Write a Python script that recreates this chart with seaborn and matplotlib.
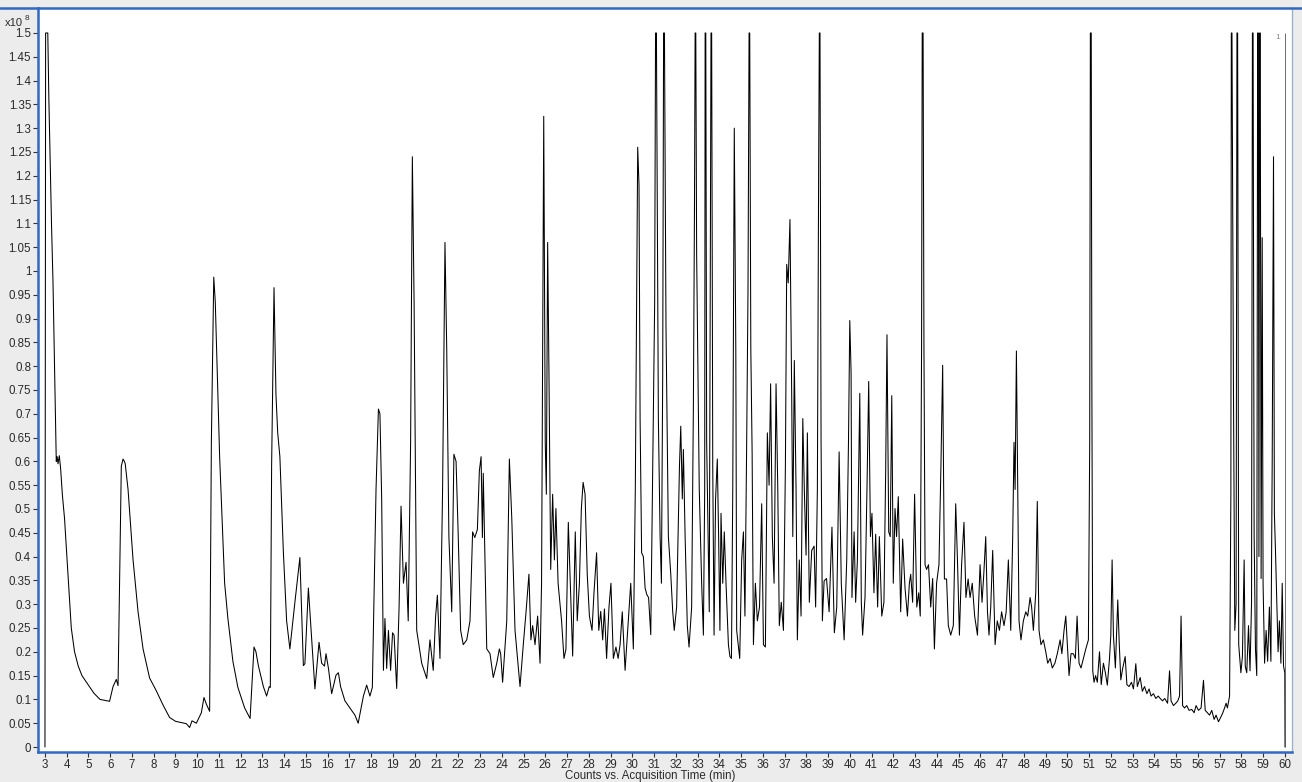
import matplotlib
matplotlib.use("Agg")
import matplotlib.pyplot as plt
import pandas as pd
import seaborn as sns
from matplotlib.lines import Line2D

# (retention time in min, counts x10^8), one list per stretch
seg_03_12 = [
    (3.00, 0.0), (3.03, 1.5), (3.13, 1.5), (3.18, 1.36), (3.23, 1.25), (3.30, 1.10),
    (3.37, 0.975), (3.45, 0.78), (3.52, 0.60), (3.56, 0.61), (3.60, 0.595), (3.66, 0.612),
    (3.72, 0.585), (3.80, 0.53), (3.90, 0.48), (4.06, 0.36), (4.21, 0.25), (4.36, 0.20),
    (4.53, 0.17), (4.70, 0.15), (4.85, 0.14), (5.00, 0.13), (5.25, 0.113), (5.53, 0.100),
    (5.97, 0.096), (6.13, 0.127), (6.28, 0.142), (6.36, 0.129), (6.43, 0.344), (6.51, 0.59),
    (6.59, 0.605), (6.65, 0.60), (6.69, 0.595), (6.82, 0.541), (7.05, 0.393), (7.28, 0.284),
    (7.51, 0.206), (7.81, 0.145), (8.12, 0.118), (8.43, 0.088), (8.73, 0.062), (9.00, 0.054),
    (9.30, 0.051), (9.50, 0.049), (9.65, 0.041), (9.76, 0.055), (9.96, 0.050), (10.19, 0.072),
    (10.31, 0.104), (10.42, 0.090), (10.57, 0.075), (10.65, 0.64), (10.76, 0.987), (10.83, 0.935),
    (11.03, 0.61), (11.26, 0.344), (11.41, 0.270), (11.64, 0.180), (11.87, 0.125), (12.18, 0.082),
    (12.43, 0.060),
]

seg_12_22 = [
    (12.61, 0.21), (12.70, 0.20), (12.81, 0.171), (13.04, 0.127), (13.19, 0.107), (13.31, 0.127),
    (13.36, 0.125), (13.42, 0.59), (13.53, 0.965), (13.62, 0.74), (13.70, 0.66), (13.80, 0.61),
    (13.96, 0.41), (14.11, 0.265), (14.26, 0.206), (14.49, 0.304), (14.72, 0.398), (14.80, 0.284),
    (14.88, 0.171), (14.95, 0.175), (15.11, 0.334), (15.22, 0.255), (15.41, 0.122), (15.60, 0.22),
    (15.72, 0.176), (15.85, 0.17), (15.92, 0.196), (16.03, 0.166), (16.18, 0.112), (16.38, 0.151),
    (16.49, 0.156), (16.59, 0.127), (16.79, 0.097), (17.02, 0.082), (17.25, 0.067), (17.40, 0.050),
    (17.64, 0.107), (17.79, 0.130), (17.94, 0.107), (18.05, 0.125), (18.22, 0.541), (18.33, 0.71),
    (18.40, 0.70), (18.48, 0.521), (18.56, 0.161), (18.63, 0.27), (18.71, 0.165), (18.79, 0.245),
    (18.89, 0.161), (18.98, 0.24), (19.05, 0.235), (19.17, 0.123), (19.28, 0.294), (19.37, 0.506),
    (19.48, 0.344), (19.60, 0.388), (19.70, 0.265), (19.81, 0.64), (19.89, 1.24), (19.97, 0.935),
    (20.09, 0.245), (20.32, 0.176), (20.55, 0.144), (20.70, 0.225), (20.85, 0.161), (20.96, 0.275),
    (21.04, 0.319), (21.16, 0.186), (21.28, 0.541), (21.39, 1.06), (21.47, 0.837), (21.57, 0.442),
    (21.70, 0.284), (21.80, 0.615), (21.90, 0.60), (22.00, 0.442), (22.11, 0.245), (22.23, 0.215),
]

seg_22_32 = [
    (22.39, 0.225), (22.54, 0.265), (22.66, 0.452), (22.76, 0.44), (22.88, 0.457), (22.97, 0.58),
    (23.05, 0.61), (23.11, 0.44), (23.15, 0.575), (23.31, 0.206), (23.46, 0.196), (23.61, 0.146),
    (23.77, 0.176), (23.89, 0.206), (23.95, 0.196), (24.04, 0.136), (24.23, 0.265), (24.35, 0.605),
    (24.46, 0.482), (24.61, 0.245), (24.84, 0.127), (24.99, 0.215), (25.11, 0.28), (25.25, 0.363),
    (25.34, 0.225), (25.42, 0.255), (25.53, 0.215), (25.65, 0.275), (25.76, 0.176), (25.83, 0.344),
    (25.88, 0.837), (25.93, 1.325), (26.00, 0.64), (26.05, 0.531), (26.11, 1.06), (26.17, 0.787),
    (26.25, 0.373), (26.34, 0.531), (26.42, 0.393), (26.49, 0.501), (26.59, 0.344), (26.75, 0.265),
    (26.86, 0.186), (26.95, 0.205), (27.06, 0.472), (27.17, 0.314), (27.26, 0.191), (27.38, 0.452),
    (27.47, 0.265), (27.57, 0.344), (27.66, 0.501), (27.74, 0.556), (27.83, 0.531), (27.93, 0.363),
    (28.03, 0.275), (28.15, 0.245), (28.24, 0.324), (28.36, 0.408), (28.46, 0.245), (28.55, 0.285),
    (28.64, 0.225), (28.72, 0.29), (28.82, 0.186), (28.93, 0.294), (29.02, 0.344), (29.13, 0.186),
    (29.25, 0.21), (29.35, 0.186), (29.44, 0.215), (29.54, 0.284), (29.67, 0.161), (29.79, 0.245),
    (29.93, 0.344), (30.05, 0.206), (30.14, 0.541), (30.20, 0.935), (30.25, 1.26), (30.31, 1.18),
    (30.36, 0.69), (30.43, 0.408), (30.51, 0.40), (30.59, 0.334), (30.67, 0.32), (30.75, 0.314),
    (30.85, 0.236), (30.94, 0.59), (31.03, 0.935), (31.07, 1.5), (31.11, 1.5), (31.20, 0.69),
    (31.28, 0.442), (31.34, 0.344), (31.40, 0.787), (31.44, 1.5), (31.48, 1.5), (31.55, 0.886),
    (31.66, 0.442), (31.77, 0.363), (31.86, 0.284), (31.93, 0.245),
]

seg_32_42 = [
    (32.04, 0.294), (32.17, 0.59), (32.23, 0.674), (32.30, 0.521), (32.35, 0.625), (32.43, 0.442),
    (32.53, 0.255), (32.61, 0.21), (32.73, 0.294), (32.81, 0.718), (32.86, 1.133), (32.89, 1.5),
    (32.92, 1.5), (32.96, 1.034), (33.08, 0.541), (33.19, 0.344), (33.27, 0.235), (33.33, 0.541),
    (33.35, 1.5), (33.38, 1.5), (33.42, 0.64), (33.54, 0.284), (33.62, 1.5), (33.65, 1.5),
    (33.70, 0.59), (33.76, 0.235), (33.83, 0.521), (33.91, 0.605), (33.97, 0.442), (34.03, 0.245),
    (34.08, 0.491), (34.16, 0.344), (34.23, 0.452), (34.31, 0.344), (34.42, 0.215), (34.49, 0.19),
    (34.56, 0.186), (34.62, 0.541), (34.69, 1.30), (34.76, 0.837), (34.80, 0.245), (34.87, 0.215),
    (34.94, 0.186), (35.03, 0.393), (35.11, 0.452), (35.18, 0.275), (35.26, 0.64), (35.32, 0.955),
    (35.37, 1.5), (35.40, 1.5), (35.45, 0.837), (35.51, 0.62), (35.57, 0.215), (35.66, 0.344),
    (35.75, 0.265), (35.85, 0.294), (35.95, 0.511), (36.03, 0.215), (36.12, 0.21), (36.21, 0.66),
    (36.29, 0.55), (36.36, 0.763), (36.44, 0.442), (36.52, 0.344), (36.61, 0.763), (36.69, 0.541),
    (36.76, 0.255), (36.85, 0.304), (36.95, 0.245), (37.04, 0.59), (37.10, 1.014), (37.17, 0.975),
    (37.25, 1.108), (37.33, 0.738), (37.38, 0.442), (37.45, 0.812), (37.53, 0.541), (37.59, 0.225),
    (37.68, 0.393), (37.76, 0.275), (37.84, 0.69), (37.91, 0.541), (37.99, 0.403), (38.05, 0.66),
    (38.14, 0.304), (38.25, 0.413), (38.36, 0.422), (38.43, 0.294), (38.51, 0.541), (38.57, 1.23),
    (38.60, 1.5), (38.63, 1.5), (38.68, 0.64), (38.74, 0.265), (38.82, 0.349), (38.93, 0.354),
    (39.05, 0.284), (39.18, 0.462), (39.29, 0.24), (39.40, 0.294), (39.51, 0.62), (39.61, 0.344),
    (39.74, 0.225), (39.86, 0.393), (39.94, 0.64), (40.00, 0.896), (40.06, 0.787), (40.10, 0.314),
    (40.20, 0.452), (40.27, 0.304), (40.35, 0.393), (40.46, 0.743), (40.53, 0.304), (40.59, 0.235),
    (40.70, 0.314), (40.79, 0.541), (40.87, 0.768), (40.95, 0.442), (41.02, 0.491), (41.11, 0.324),
    (41.19, 0.447), (41.28, 0.294), (41.36, 0.442), (41.47, 0.275), (41.57, 0.304),
]

seg_42_51 = [
    (41.65, 0.58), (41.71, 0.866), (41.79, 0.452), (41.86, 0.442), (41.93, 0.738), (42.00, 0.344),
    (42.08, 0.501), (42.15, 0.442), (42.23, 0.526), (42.34, 0.284), (42.43, 0.437), (42.54, 0.334),
    (42.65, 0.275), (42.74, 0.344), (42.80, 0.363), (42.89, 0.304), (42.98, 0.531), (43.08, 0.294),
    (43.17, 0.324), (43.24, 0.275), (43.30, 0.837), (43.33, 1.5), (43.37, 1.5), (43.41, 0.837),
    (43.46, 0.383), (43.53, 0.373), (43.62, 0.383), (43.72, 0.294), (43.81, 0.354), (43.89, 0.206),
    (43.99, 0.344), (44.10, 0.383), (44.19, 0.59), (44.27, 0.802), (44.35, 0.353), (44.45, 0.353),
    (44.53, 0.255), (44.64, 0.235), (44.76, 0.255), (44.87, 0.511), (44.95, 0.393), (45.04, 0.235),
    (45.14, 0.383), (45.25, 0.472), (45.34, 0.314), (45.44, 0.353), (45.53, 0.314), (45.63, 0.344),
    (45.74, 0.275), (45.87, 0.235), (45.99, 0.383), (46.08, 0.304), (46.16, 0.363), (46.25, 0.442),
    (46.33, 0.284), (46.40, 0.235), (46.48, 0.294), (46.57, 0.413), (46.68, 0.215), (46.78, 0.265),
    (46.88, 0.245), (46.98, 0.284), (47.09, 0.255), (47.19, 0.284), (47.29, 0.393), (47.40, 0.245),
    (47.49, 0.442), (47.55, 0.64), (47.60, 0.541), (47.66, 0.832), (47.72, 0.541), (47.78, 0.265),
    (47.87, 0.225), (47.98, 0.265), (48.09, 0.284), (48.18, 0.275), (48.29, 0.314), (48.36, 0.294),
    (48.44, 0.245), (48.55, 0.324), (48.62, 0.516), (48.70, 0.245), (48.79, 0.215), (48.90, 0.225),
    (49.01, 0.20), (49.10, 0.176), (49.21, 0.186), (49.31, 0.166), (49.43, 0.176), (49.54, 0.196),
    (49.67, 0.225), (49.75, 0.196), (49.85, 0.245), (49.93, 0.275), (50.00, 0.215), (50.08, 0.15),
    (50.17, 0.196), (50.28, 0.196), (50.37, 0.186), (50.45, 0.275), (50.54, 0.176), (50.63, 0.166),
    (50.74, 0.186), (50.85, 0.206), (50.97, 0.225), (51.03, 0.64), (51.06, 1.5), (51.10, 1.5),
    (51.13, 0.75), (51.17, 0.16), (51.23, 0.136),
]

seg_51_60 = [
    (51.30, 0.15), (51.38, 0.136), (51.48, 0.20), (51.56, 0.131), (51.66, 0.176), (51.75, 0.156),
    (51.84, 0.13), (51.94, 0.186), (52.00, 0.235), (52.06, 0.393), (52.12, 0.235), (52.21, 0.166),
    (52.32, 0.309), (52.39, 0.215), (52.46, 0.141), (52.55, 0.166), (52.66, 0.19), (52.74, 0.131),
    (52.84, 0.127), (52.95, 0.136), (53.04, 0.122), (53.15, 0.175), (53.22, 0.127), (53.35, 0.146),
    (53.45, 0.117), (53.55, 0.127), (53.66, 0.112), (53.76, 0.122), (53.85, 0.107), (53.96, 0.112),
    (54.07, 0.102), (54.18, 0.107), (54.27, 0.102), (54.38, 0.097), (54.48, 0.102), (54.61, 0.092),
    (54.70, 0.16), (54.77, 0.097), (54.88, 0.087), (54.99, 0.092), (55.08, 0.097), (55.16, 0.107),
    (55.23, 0.275), (55.30, 0.087), (55.39, 0.082), (55.49, 0.087), (55.60, 0.077), (55.72, 0.079),
    (55.83, 0.072), (55.92, 0.087), (56.03, 0.077), (56.15, 0.082), (56.26, 0.14), (56.34, 0.077),
    (56.44, 0.072), (56.54, 0.067), (56.64, 0.077), (56.75, 0.058), (56.84, 0.067), (56.95, 0.053),
    (57.06, 0.063), (57.15, 0.072), (57.23, 0.082), (57.30, 0.092), (57.36, 0.082), (57.46, 0.107),
    (57.52, 0.531), (57.54, 1.5), (57.57, 1.5), (57.64, 0.74), (57.70, 0.245), (57.76, 0.30),
    (57.80, 1.5), (57.83, 1.5), (57.88, 0.215), (57.98, 0.156), (58.05, 0.19), (58.13, 0.393),
    (58.18, 0.17), (58.25, 0.156), (58.33, 0.255), (58.40, 0.16), (58.47, 0.304), (58.51, 1.5),
    (58.54, 1.5), (58.59, 0.442), (58.65, 0.206), (58.71, 0.15), (58.75, 1.5), (58.78, 1.5),
    (58.81, 0.40), (58.84, 1.5), (58.87, 1.5), (58.91, 0.354), (58.96, 1.07), (59.00, 0.344),
    (59.07, 0.176), (59.14, 0.245), (59.21, 0.18), (59.29, 0.294), (59.36, 0.18), (59.42, 0.60),
    (59.48, 1.24), (59.52, 0.491), (59.57, 0.413), (59.63, 0.304), (59.69, 0.20), (59.75, 0.265),
    (59.82, 0.176), (59.88, 0.344), (59.94, 0.17), (60.00, 0.156), (60.01, 0.0),
]

x_ticks = list(range(3, 61))
y_ticks = [round(0.05 * i, 2) for i in range(31)]
end_marker = 60.0
x_label = "Counts vs. Acquisition Time (min)"

W, H = 1302, 782
BLUE = "#3168c2"


def build_frame():
    rows = seg_03_12 + seg_12_22 + seg_22_32 + seg_32_42 + seg_42_51 + seg_51_60
    return pd.DataFrame(rows, columns=["time", "counts"])


def plot_chromatogram(df):
    sns.set_theme(style="white")
    plt.rcParams["font.family"] = ["Liberation Sans", "DejaVu Sans"]

    fig = plt.figure(figsize=(W / 100, H / 100), dpi=100, facecolor="#ececec")
    ax = fig.add_axes([38 / W, 1 - 752 / H, (1292 - 38) / W, (752 - 8) / H])
    ax.set_facecolor("white")

    sns.lineplot(data=df, x="time", y="counts", ax=ax, color="black", linewidth=0.75,
                 estimator=None, sort=False, legend=False)
    ax.vlines(end_marker, 0, 1.5, color="#555555", linewidth=0.6)
    ax.text(end_marker - 0.2, 1.49, "1", fontsize=6, color="#888888", ha="right", va="center")

    ax.set_xlim(2.68, 60.33)
    ax.set_ylim(-0.0105, 1.5525)
    ax.set_xticks(x_ticks)
    ax.set_xticklabels([str(t) for t in x_ticks])
    ax.set_yticks(y_ticks)
    ax.set_yticklabels([f"{v:g}" for v in y_ticks])
    ax.set_xlabel("")
    ax.set_ylabel("")
    ax.tick_params(axis="both", direction="out", length=3.5, width=0.8, color="#333333",
                   labelsize=8.3, labelcolor="#2a2a2a", pad=1.5)
    ax.tick_params(axis="x", bottom=True)
    ax.tick_params(axis="y", left=True)

    for side in ["left", "bottom"]:
        ax.spines[side].set_color(BLUE)
        ax.spines[side].set_linewidth(1.8)
    ax.spines["top"].set_visible(False)
    ax.spines["right"].set_color("#9db3c8")
    ax.spines["right"].set_linewidth(1.0)

    # blue rule along the top of the whole window
    fig.add_artist(Line2D([0, 1], [1 - 8 / H, 1 - 8 / H], transform=fig.transFigure,
                          color=BLUE, linewidth=1.8))

    fig.text(5 / W, 1 - 23 / H, "x10", fontsize=8, color="#2a2a2a", va="center", ha="left")
    fig.text(25 / W, 1 - 19 / H, "8", fontsize=6, color="#2a2a2a", va="center", ha="left")
    fig.text(650 / W, 1 - 776 / H, x_label, fontsize=8.3, color="#2a2a2a", ha="center", va="center")

    fig.savefig("out.png", dpi=100, facecolor=fig.get_facecolor())
    plt.close(fig)


if __name__ == "__main__":
    plot_chromatogram(build_frame())
